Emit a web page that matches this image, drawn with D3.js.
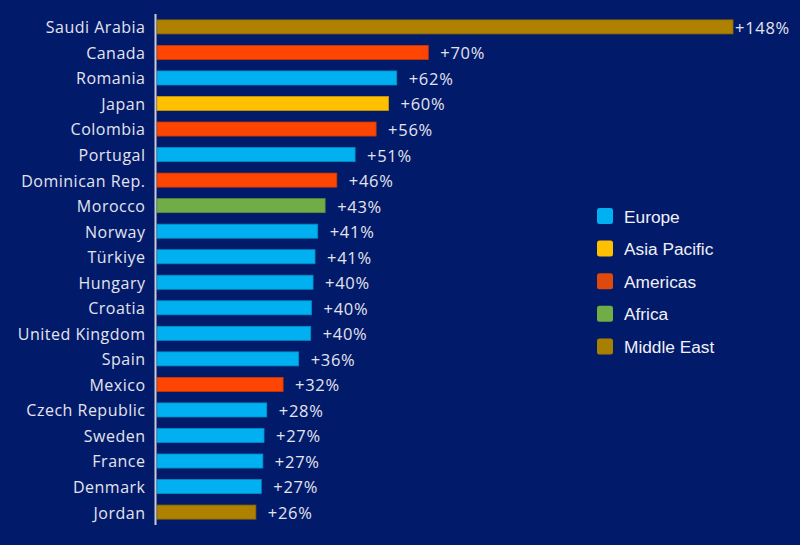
<!DOCTYPE html>
<html>
<head>
<meta charset="utf-8">
<script src="https://cdn.jsdelivr.net/npm/d3@7"></script>
<style>
  html, body { margin: 0; padding: 0; background: #021a6a; }
  svg { display: block; }
</style>
</head>
<body>
<div id="chart"></div>
<script>
// growth by country (bar length) and the printed labels
const countries = ["Saudi Arabia", "Canada", "Romania", "Japan", "Colombia", "Portugal",
  "Dominican Rep.", "Morocco", "Norway", "Türkiye", "Hungary", "Croatia", "United Kingdom",
  "Spain", "Mexico", "Czech Republic", "Sweden", "France", "Denmark", "Jordan"];
const values = [148, 69.7, 61.6, 59.5, 56.3, 50.9, 46.2, 43.2, 41.3, 40.6, 40.1, 39.7, 39.5,
  36.4, 32.4, 28.2, 27.5, 27.2, 26.8, 25.4];
const labels = ["+148%", "+70%", "+62%", "+60%", "+56%", "+51%", "+46%", "+43%", "+41%", "+41%",
  "+40%", "+40%", "+40%", "+36%", "+32%", "+28%", "+27%", "+27%", "+27%", "+26%"];
const regionOf = ["Middle East", "Americas", "Europe", "Asia Pacific", "Americas", "Europe",
  "Americas", "Africa", "Europe", "Europe", "Europe", "Europe", "Europe", "Europe", "Americas",
  "Europe", "Europe", "Europe", "Europe", "Middle East"];

const regions = ["Europe", "Asia Pacific", "Americas", "Africa", "Middle East"];
const barColors = ["#00b0f0", "#ffc000", "#ff4502", "#70ad47", "#ae8200"];
const swatchColors = ["#00b0f0", "#ffc000", "#dd4a0c", "#70ad47", "#a88000"];

const data = countries.map((c, i) => ({name: c, value: values[i], label: labels[i], region: regionOf[i]}));

const width = 800, height = 545;

let svg = d3.select("#chart")
    .append("svg")
    .attr("width", width)
    .attr("height", height);

svg.append("rect")
    .attr("width", width)
    .attr("height", height)
    .attr("fill", "#021a6a");

let x = d3.scaleLinear().domain([0, 148]).range([157, 733]);
let y = d3.scaleBand().domain(countries).range([14, 525]).paddingInner(0.45).paddingOuter(0.23);
let color = d3.scaleOrdinal().domain(regions).range(barColors);

svg.selectAll(".bar")
    .data(data)
    .join("rect")
    .attr("class", "bar")
    .attr("x", x(0))
    .attr("y", d => y(d.name))
    .attr("width", d => x(d.value) - x(0))
    .attr("height", y.bandwidth())
    .attr("fill", d => color(d.region))
    .attr("stroke", d => d3.color(color(d.region)).darker(0.6))
    .attr("stroke-width", 0.8);

// category axis: just the line and the names
let yAxis = svg.append("g")
    .attr("transform", "translate(155.5,0)")
    .call(d3.axisLeft(y).tickSize(0).tickPadding(10));
yAxis.select(".domain").remove();
yAxis.append("line")
    .attr("x1", 0).attr("x2", 0)
    .attr("y1", 14).attr("y2", 525)
    .attr("stroke", "#c9ccd8")
    .attr("stroke-width", 2);
yAxis.selectAll("text")
    .attr("fill", "#e2e4ee")
    .attr("dy", "0.4em")
    .style("font-family", "'Open Sans', Lato, sans-serif")
    .style("font-size", "16px")
    .style("letter-spacing", "0.5px");

svg.selectAll(".val")
    .data(data)
    .join("text")
    .attr("class", "val")
    .attr("x", d => x(d.value) + (d.value === 148 ? 2 : 12))
    .attr("y", d => y(d.name) + y.bandwidth() / 2)
    .attr("dy", "0.42em")
    .attr("fill", "#e2e4ee")
    .style("font-family", "'Open Sans', Lato, sans-serif")
    .style("font-size", "16.5px")
    .style("letter-spacing", "0.7px")
    .text(d => d.label);

// legend
let legend = svg.append("g")
    .selectAll("g")
    .data(regions)
    .join("g")
    .attr("transform", (d, i) => "translate(597," + (208 + i * 32.6) + ")");

legend.append("rect")
    .attr("width", 16)
    .attr("height", 16)
    .attr("rx", 2.5)
    .attr("fill", (d, i) => swatchColors[i]);

legend.append("text")
    .attr("x", 27)
    .attr("y", 8)
    .attr("dy", "0.38em")
    .attr("fill", "#f0f0f6")
    .style("font-family", "'Liberation Sans', Arial, sans-serif")
    .style("font-size", "17.3px")
    .text(d => d);
</script>
</body>
</html>
